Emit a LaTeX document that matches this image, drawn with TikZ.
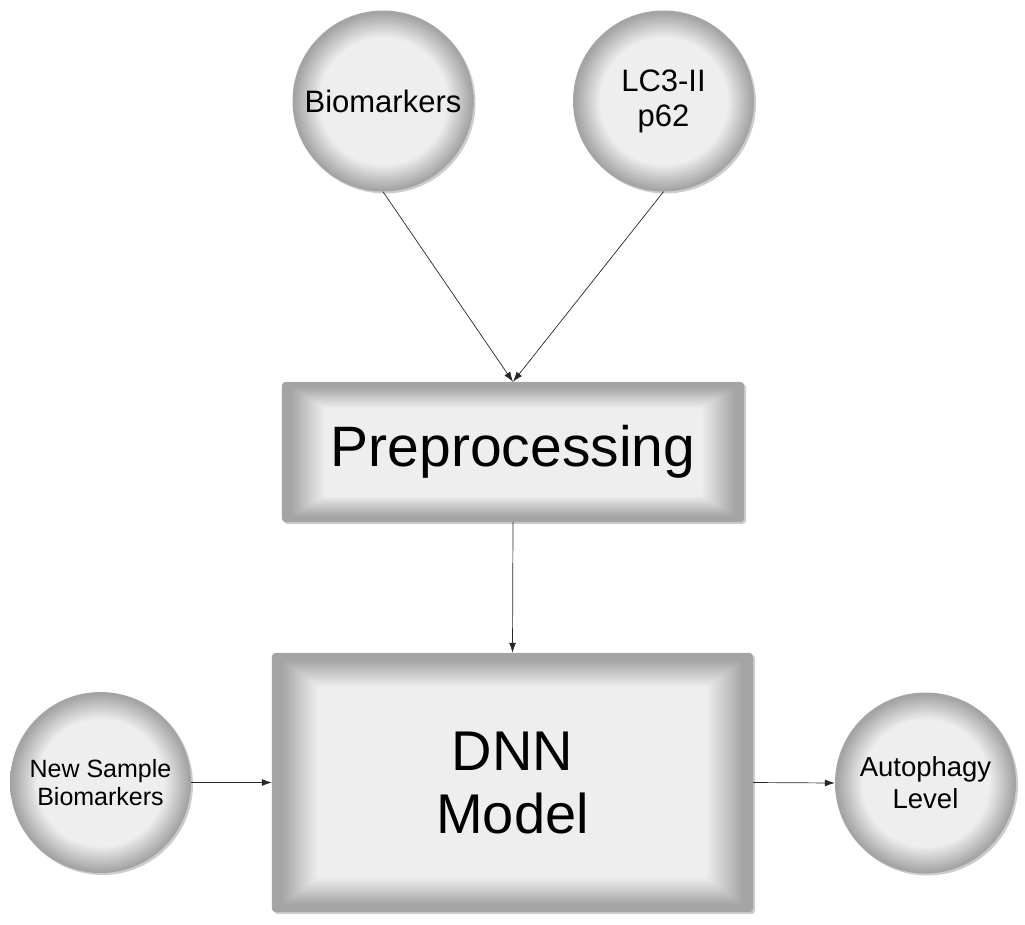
\documentclass[tikz,border=0pt]{standalone}
\usepackage{fontspec}
\setmainfont{Liberation Sans}
\usetikzlibrary{arrows.meta,backgrounds,shadows}
\definecolor{cl}{HTML}{EEEEEE}
\definecolor{cd}{HTML}{A4A4A4}
\pgfdeclareradialshading{ball}{\pgfpoint{0bp}{0bp}}{color(0bp)=(cl); color(17.5bp)=(cl); color(24.5bp)=(cd); color(25bp)=(cd); color(50bp)=(cd)}
\tikzset{
  ballnode/.style={circle, minimum size=181pt, inner sep=0pt, shading=ball, align=center,
    drop shadow={shadow xshift=2pt, shadow yshift=-2pt, opacity=0.2, fill=black}},
  boxnode/.style={rectangle, inner sep=0pt, align=center},
  conn/.style={draw=black!85, line width=0.7pt, -{Latex[length=10pt,width=7pt]}},
}
\newcommand{\bevelbox}[3]{%
  % #1 node name, #2 max horizontal inset, #3 max vertical inset
  \fill[black, opacity=0.2, rounded corners=4pt] ([xshift=2pt,yshift=-2pt]#1.south west) rectangle ([xshift=2pt,yshift=-2pt]#1.north east);
  \fill[cd, rounded corners=4pt] (#1.south west) rectangle (#1.north east);
  \foreach \i in {1,...,40}{%
    \pgfmathsetmacro{\p}{max(0,(\i/40-0.2)/0.8)*100}%
    \pgfmathsetmacro{\dx}{#2*\i/40}%
    \pgfmathsetmacro{\dy}{#3*\i/40}%
    \fill[cl!\p!cd, rounded corners=3pt] ([xshift=\dx pt,yshift=\dy pt]#1.south west) rectangle ([xshift=-\dx pt,yshift=-\dy pt]#1.north east);
  }%
}
\begin{document}
\begin{tikzpicture}[x=1pt,y=-1pt]
\useasboundingbox (0,0) rectangle (1025,924);

\node[ballnode, font=\fontsize{31}{35}\selectfont] (bio) at (383,101) {Biomarkers};
\node[ballnode, font=\fontsize{31}{35}\selectfont] (lc3) at (663.5,101) {LC3-II\\p62};
\node[ballnode, font=\fontsize{25}{28}\selectfont] (new) at (100.5,782.5) {New Sample\\Biomarkers};
\node[ballnode, font=\fontsize{27.5}{32}\selectfont] (aut) at (925.5,783) {Autophagy\\Level};

\node[boxnode, minimum width=462pt, minimum height=140pt, font=\fontsize{57}{63}\selectfont] (pre) at (513,452) {Preprocessing};
\node[boxnode, minimum width=481pt, minimum height=259pt, font=\fontsize{56}{63}\selectfont] (dnn) at (512.5,782.5) {DNN\\Model};

\begin{scope}[on background layer]
  \bevelbox{pre}{42}{26}
  \bevelbox{dnn}{46}{34}
\end{scope}

\draw[conn] (bio.south) -- (pre.north);
\draw[conn] (lc3.south) -- (pre.north);
\draw[conn] (pre.south) -- (dnn.north);
\draw[conn] (new.east) -- (dnn.west);
\draw[conn] (dnn.east) -- (aut.west);
\end{tikzpicture}
\end{document}
